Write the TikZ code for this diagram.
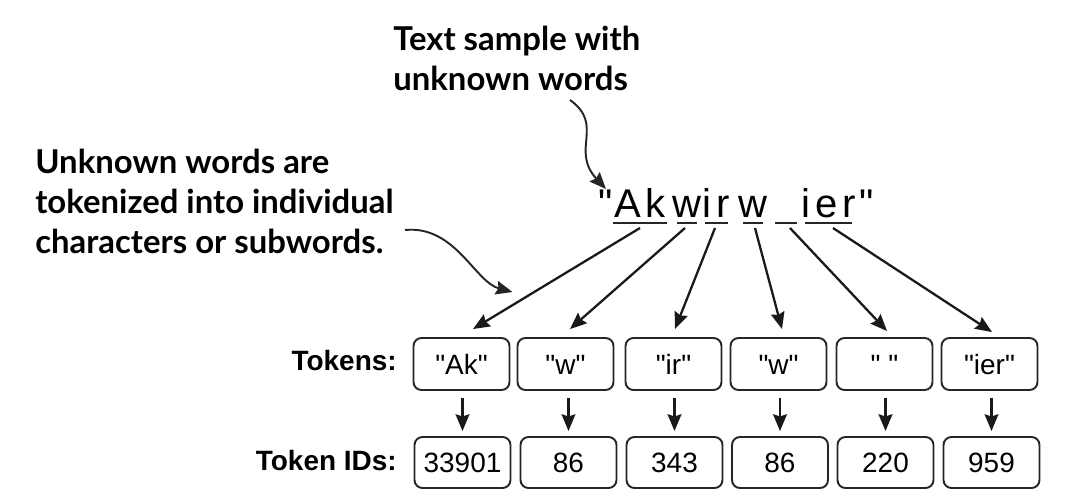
\documentclass[tikz,border=0pt]{standalone}
\usepackage{fontspec}
\setmainfont{Liberation Sans}[Ligatures=TeXOff]
\newfontfamily\headfont{Lato}
\newfontfamily\strfont{Liberation Sans}[LetterSpace=12,Ligatures=TeXOff]
\usetikzlibrary{arrows.meta,calc}
\begin{document}
\begin{tikzpicture}[x=0.02cm,y=-0.02cm,
  arr/.style={line width=1.3pt,draw=black!90,-{Stealth[length=9.5pt,width=7.8pt,inset=1.2pt]}},
  curv/.style={line width=1.1pt,draw=black!85,-{Stealth[length=9.5pt,width=7.8pt,inset=1.2pt]}},
  head/.style={font=\headfont\bfseries\fontsize{18.7}{22.5}\selectfont,align=left,inner sep=0pt},
  lbl/.style={font=\bfseries\fontsize{15.9}{19}\selectfont,inner sep=0pt},
  seg/.style={font=\strfont\fontsize{22.8}{26}\selectfont,inner sep=0pt},
  uline/.style={line width=1.2pt,draw=black!85},
  tok/.style={draw=black!85,line width=1.1pt,rounded corners=0.16cm,minimum width=1.92cm,
    minimum height=1.04cm,inner sep=0pt,text height=11.4pt,text depth=0pt,
    font=\fontsize{15.9}{19}\selectfont},
  idbox/.style={tok,minimum height=1.02cm}
]
\useasboundingbox (0,0) rectangle (1080,504);

% headings (anchor at baseline of the last line)
\node[head,anchor=base west] (head1) at (393,90) {Text sample with\\unknown words};
\node[head,anchor=base west] (head2) at (35,253) {Unknown words are\\tokenized into individual\\characters or subwords.};

% string
\node[seg,anchor=base] (q1) at (606,217) {"};
\node[seg,anchor=base] (s1) at (640,217) {Ak};
\node[seg,anchor=base] (s2) at (687,217) {w};
\node[seg,anchor=base] (s3) at (716.5,217) {ir};
\node[seg,anchor=base] (s4) at (753,217) {w};
\node[seg,anchor=base,minimum width=0.44cm] (s5) at (786,217) {\strut};
\node[seg,anchor=base] (s6) at (828.5,217) {ier};
\node[seg,anchor=base] (q2) at (867,217) {"};

\draw[uline] ($(s1.base)+(-27,6)$) -- ($(s1.base)+(27,6)$);
\draw[uline] ($(s2.base)+(-10,6)$) -- ($(s2.base)+(10,6)$);
\draw[uline] ($(s3.base)+(-11.5,6)$) -- ($(s3.base)+(11.5,6)$);
\draw[uline] ($(s4.base)+(-10,6)$) -- ($(s4.base)+(10,6)$);
\draw[uline] ($(s5.base)+(-11,6)$) -- ($(s5.base)+(11,6)$);
\draw[uline] ($(s6.base)+(-23.5,6)$) -- ($(s6.base)+(23.5,6)$);

\coordinate (a1) at ($(s1.base)+(0,11)$);
\coordinate (a2) at ($(s2.base)+(-2,11)$);
\coordinate (a3) at ($(s3.base)+(-1.5,11)$);
\coordinate (a4) at ($(s4.base)+(2,11)$);
\coordinate (a5) at ($(s5.base)+(4,11)$);
\coordinate (a6) at ($(s6.base)+(4.5,11)$);

% labels
\node[lbl,anchor=base east] (lt) at (397,370) {Tokens:};
\node[lbl,anchor=base east] (lid) at (397,470) {Token IDs:};

% token boxes
\node[tok] (t1) at (461.5,364) {"Ak"};
\node[tok] (t2) at (565.5,364) {"w"};
\node[tok] (t3) at (673.5,364) {"ir"};
\node[tok] (t4) at (778.5,364) {"w"};
\node[tok] (t5) at (884.5,364) {" "};
\node[tok] (t6) at (989.5,364) {"ier"};

% id boxes
\node[idbox] (id1) at (462.5,462.5) {33901};
\node[idbox] (id2) at (568.5,462.5) {86};
\node[idbox] (id3) at (674.5,462.5) {343};
\node[idbox] (id4) at (780,462.5) {86};
\node[idbox] (id5) at (885.5,462.5) {220};
\node[idbox] (id6) at (991.5,462.5) {959};

% arrows string -> tokens
\draw[arr] (a1) -- ($(t1.north)+(11.5,-8)$);
\draw[arr] (a2) -- ($(t2.north)+(4.5,-8)$);
\draw[arr] (a3) -- ($(t3.north)+(1.5,-8)$);
\draw[arr] (a4) -- ($(t4.north)+(3.5,-8)$);
\draw[arr] (a5) -- ($(t5.north)+(2.5,-6)$);
\draw[arr] (a6) -- ($(t6.north)+(2.5,-5)$);

% arrows tokens -> ids
\foreach \i in {1,...,6}{
  \draw[arr,shorten <=0.14cm,shorten >=0.1cm] (t\i.south -| id\i.north) -- (id\i.north);
}

% curved arrows
\coordinate (c1) at (570,100);
\coordinate (c2) at (405,230);
\draw[curv] (c1) .. controls (605,125) and (570,150) .. (q1.north);
\draw[curv] (c2) .. controls (455,225) and (475,282) .. ($(t1.north)+(51,-45)$);
\end{tikzpicture}
\end{document}
